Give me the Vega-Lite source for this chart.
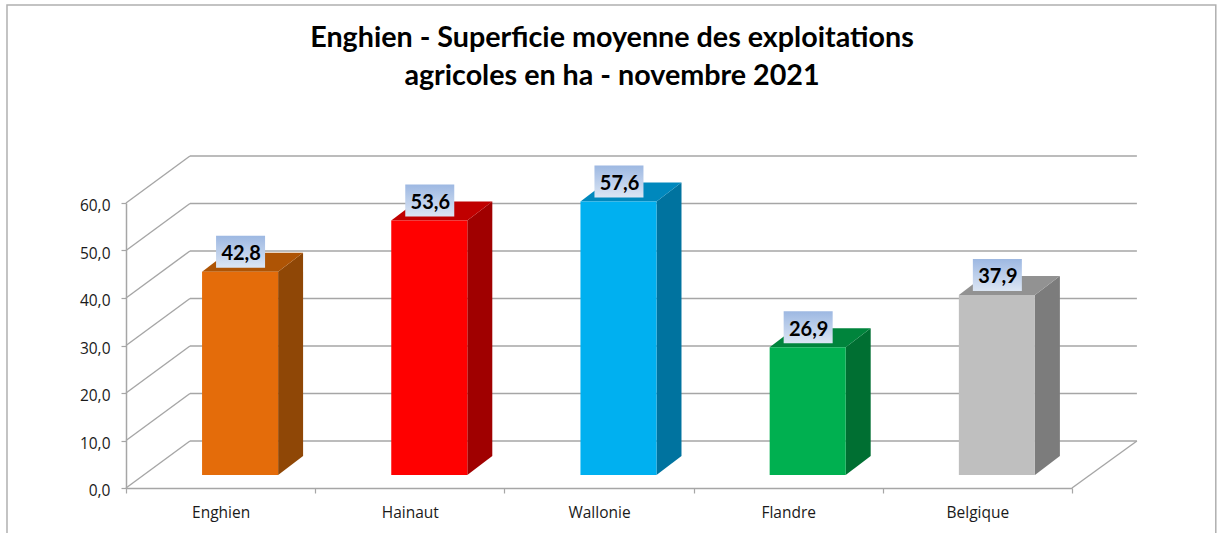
{"$schema":"https://vega.github.io/schema/vega-lite/v6.json","width":946,"height":285,"autosize":{"type":"none"},"padding":{"left":126,"right":147,"top":203,"bottom":45},"background":"white","config":{"view":{"stroke":null}},
"title":{"text":["Enghien - Superficie moyenne des exploitations","agricoles en ha - novembre 2021"],"font":"Lato","fontWeight":"bold","fontSize":28.7,"lineHeight":38,"color":"#000000","anchor":"middle","dx":13,"baseline":"alphabetic","offset":-110},
"datasets":{"bars":[{"category":"Enghien","value":42.8},{"category":"Hainaut","value":53.6},{"category":"Wallonie","value":57.6},{"category":"Flandre","value":26.9},{"category":"Belgique","value":37.9}],"grid":[{"v":0},{"v":10},{"v":20},{"v":30},{"v":40},{"v":50},{"v":60}]},
"data":{"name":"bars"},
"transform":[{"calculate":"indexof(['Enghien','Hainaut','Wallonie','Flandre','Belgique'],datum.category)","as":"idx"},{"calculate":"datum.idx+0.402","as":"left"},{"calculate":"datum.idx+0.804","as":"right"},{"calculate":"replace(format(datum.value,'.1f'),'.',',')","as":"label"}],
"layer":[
{"data":{"values":[{"a":1}]},"transform":[],"mark":{"type":"rect","fill":null,"stroke":"#b0b0b0","strokeWidth":1.5},"encoding":{"x":{"datum":-0.629,"type":"quantitative","scale":{"domain":[0,5],"nice":false,"zero":false},"axis":{"title":null,"values":[0,1,2,3,4,5],"grid":false,"labelExpr":"['Enghien','Hainaut','Wallonie','Flandre','Belgique'][datum.value]||''","labelOffset":94.6,"labelFlush":false,"labelOverlap":false,"labelFont":"Open Sans","labelFontSize":15.5,"labelColor":"#1a1a1a","labelPadding":12,"labelAngle":0,"domainColor":"#a6a6a6","domainWidth":1.5,"tickColor":"#a6a6a6","tickSize":5,"tickWidth":1.2}},"x2":{"datum":5.76},"y":{"datum":101.7,"type":"quantitative","scale":{"domain":[0,60],"nice":false,"zero":true},"axis":{"title":null,"values":[0,10,20,30,40,50,60],"grid":false,"labelExpr":"replace(format(datum.value,'.1f'),'.',',')","labelOffset":2.5,"labelFont":"Open Sans","labelFontSize":15.5,"labelColor":"#1a1a1a","labelPadding":11,"domainColor":"#a6a6a6","domainWidth":1.5,"tickColor":"#a6a6a6","tickSize":5,"tickWidth":1.2}},"y2":{"datum":-12}}},
{"data":{"name":"grid"},"transform":[{"calculate":"datum.v+9.9","as":"vb"}],"mark":{"type":"rule","color":"#a6a6a6","strokeWidth":1.4},"encoding":{"x":{"datum":0.338,"type":"quantitative"},"x2":{"datum":5.343},"y":{"field":"vb","type":"quantitative"}}},
{"data":{"name":"grid"},"transform":[{"calculate":"datum.v+9.9","as":"vb"}],"mark":{"type":"rule","color":"#a6a6a6","strokeWidth":1.4},"encoding":{"x":{"datum":0,"type":"quantitative"},"x2":{"datum":0.338},"y":{"field":"v","type":"quantitative"},"y2":{"field":"vb"}}},
{"data":{"values":[{"v":0,"vb":9.9}]},"transform":[],"mark":{"type":"rule","color":"#a6a6a6","strokeWidth":1.4},"encoding":{"x":{"datum":5,"type":"quantitative"},"x2":{"datum":5.343},"y":{"field":"v","type":"quantitative"},"y2":{"field":"vb"}}},
{"transform":[{"calculate":"[0,1]","as":"edge"},{"flatten":["edge"]},{"calculate":"datum.right+datum.edge*0.132","as":"sx"},{"calculate":"datum.value+2.737+datum.edge*4","as":"top"},{"calculate":"2.737+datum.edge*4","as":"bottom"}],"mark":{"type":"area","orient":"vertical","opacity":1},"encoding":{"x":{"field":"sx","type":"quantitative"},"y":{"field":"top","type":"quantitative"},"y2":{"field":"bottom"},"detail":{"field":"category"},"color":{"field":"category","type":"nominal","legend":null,"scale":{"domain":["Enghien","Hainaut","Wallonie","Flandre","Belgique"],"range":["#8f4706","#a00000","#00739f","#006f32","#7c7c7c"]}}}},
{"transform":[{"calculate":"[0,1]","as":"edge"},{"flatten":["edge"]},{"calculate":"datum.left+datum.edge*0.132","as":"tx"},{"calculate":"datum.right+datum.edge*0.132","as":"tx2"},{"calculate":"datum.value+2.737+datum.edge*4","as":"ty"}],"mark":{"type":"area","orient":"horizontal","opacity":1},"encoding":{"y":{"field":"ty","type":"quantitative"},"x":{"field":"tx","type":"quantitative"},"x2":{"field":"tx2"},"detail":{"field":"category"},"color":{"field":"category","type":"nominal","legend":null,"scale":{"domain":["Enghien","Hainaut","Wallonie","Flandre","Belgique"],"range":["#ae5405","#c00000","#0088bd","#00843c","#929292"]}}}},
{"transform":[{"calculate":"datum.value+2.737","as":"top"},{"calculate":"2.737","as":"bottom"}],"mark":{"type":"rect","strokeWidth":1,"strokeOpacity":0.5},"encoding":{"x":{"field":"left","type":"quantitative"},"x2":{"field":"right"},"y":{"field":"top","type":"quantitative"},"y2":{"field":"bottom"},"color":{"field":"category","type":"nominal","legend":null,"scale":{"domain":["Enghien","Hainaut","Wallonie","Flandre","Belgique"],"range":["#e46c0a","#ff0000","#00b0f0","#00b050","#bfbfbf"]}}}},
{"transform":[{"calculate":"datum.idx+0.476","as":"bx"},{"calculate":"datum.idx+0.735","as":"bx2"},{"calculate":"datum.value+10.3","as":"by"},{"calculate":"datum.value+3.56","as":"by2"}],"mark":{"type":"rect","fill":{"x1":0,"y1":0,"x2":0,"y2":1,"gradient":"linear","stops":[{"offset":0,"color":"#9db8e2"},{"offset":1,"color":"#dce6f4"}]}},"encoding":{"x":{"field":"bx","type":"quantitative"},"x2":{"field":"bx2"},"y":{"field":"by","type":"quantitative"},"y2":{"field":"by2"}}},
{"transform":[{"calculate":"datum.idx+0.6085","as":"lx"},{"calculate":"datum.value+6.45","as":"ly"}],"mark":{"type":"text","font":"Lato","fontWeight":"bold","fontSize":20,"color":"#000000","baseline":"middle","align":"center"},"encoding":{"x":{"field":"lx","type":"quantitative"},"y":{"field":"ly","type":"quantitative"},"text":{"field":"label","type":"nominal"}}}
],
"resolve":{"scale":{"color":"independent"}}}
